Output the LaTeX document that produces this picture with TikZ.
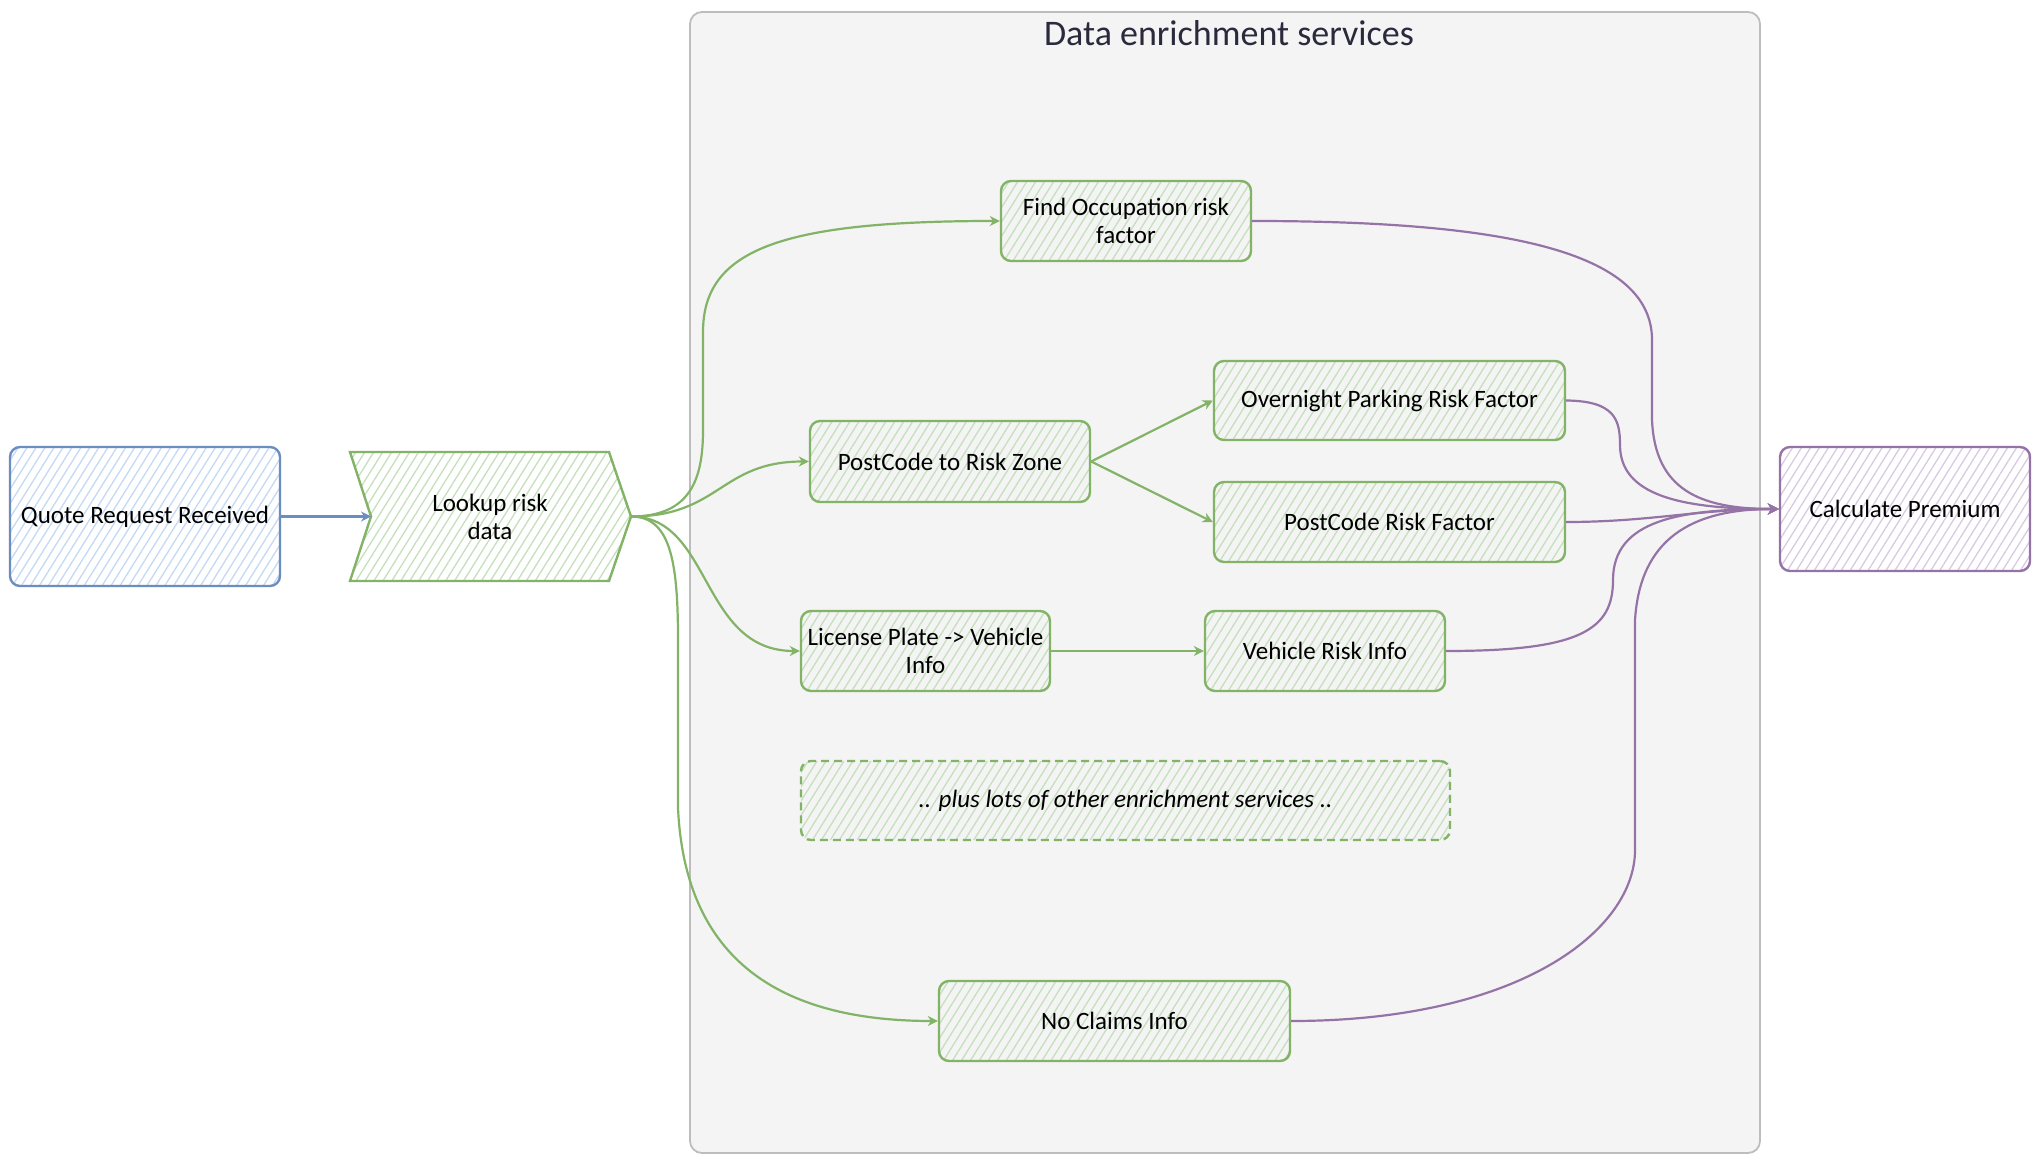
\documentclass[tikz,border=0pt]{standalone}
\usepackage{fontspec}
\setmainfont{Carlito}
\usetikzlibrary{patterns.meta,arrows.meta}
\definecolor{bstroke}{HTML}{6C8EBF}
\definecolor{bhatch}{HTML}{C4D9F5}
\definecolor{gstroke}{HTML}{82B366}
\definecolor{ghatch}{HTML}{C4E0BC}
\definecolor{pstroke}{HTML}{9673A6}
\definecolor{phatch}{HTML}{D9CAE4}
\definecolor{contfill}{HTML}{F4F4F4}
\definecolor{contline}{HTML}{BDBDBD}
\definecolor{titlecol}{HTML}{2A2A3C}
\tikzset{
  hatch/.style={pattern={Lines[angle=58,distance=3.8pt,line width=0.65pt]}},
  card/.style={draw, line width=1.2pt, rounded corners=5pt, align=center, inner sep=0pt,
    font=\fontsize{12.5}{14}\selectfont, text=black},
  gcard/.style={card, draw=gstroke, hatch, pattern color=ghatch},
  bcard/.style={card, draw=bstroke, hatch, pattern color=bhatch},
  pcard/.style={card, draw=pstroke, hatch, pattern color=phatch},
  gedge/.style={draw=gstroke, line width=1.1pt, -{Stealth[length=5pt,width=5pt]}},
  bedge/.style={draw=bstroke, line width=1.1pt, -{Stealth[length=5pt,width=5pt]}},
  pedge/.style={draw=pstroke, line width=1.1pt, -{Stealth[length=5.5pt,width=5.5pt]}}
}
\begin{document}
\begin{tikzpicture}[x=0.5pt,y=-0.5pt]
\useasboundingbox (0,0) rectangle (2043,1165);
\fill[white] (0,0) rectangle (2043,1165);

% container
\path[draw=contline, fill=contfill, line width=0.9pt, rounded corners=6pt] (690,12) rectangle (1760,1153);
\node[font=\fontsize{18}{20}\selectfont, text=titlecol] (title) at (1229,33) {Data enrichment services};

% left nodes
\node[bcard, minimum width=135pt, minimum height=69.5pt] (quote) at (145,516.5) {Quote Request Received};
\path[draw=gstroke, line width=1.2pt, hatch, pattern color=ghatch]
  (350,452) -- (609,452) -- (631,516.5) -- (609,581) -- (350,581) -- (371,516.5) -- cycle;
\coordinate (lookin) at (371,516.5);
\coordinate (lookout) at (631,516.5);
\node[align=center, font=\fontsize{12.5}{14}\selectfont] (lookup) at (490,516.5) {Lookup risk\\data};

% services
\node[gcard, minimum width=125pt, minimum height=40pt] (occ) at (1126,221) {Find Occupation risk\\factor};
\node[gcard, minimum width=140pt, minimum height=40.5pt] (pcrz) at (950,461.5) {PostCode to Risk Zone};
\node[gcard, minimum width=175.5pt, minimum height=39.5pt] (over) at (1389.5,400.5) {Overnight Parking Risk Factor};
\node[gcard, minimum width=175.5pt, minimum height=40pt] (pcrf) at (1389.5,522) {PostCode Risk Factor};
\node[gcard, minimum width=124.5pt, minimum height=40pt] (lic) at (925.5,651) {License Plate -> Vehicle\\Info};
\node[gcard, minimum width=120pt, minimum height=40pt] (veh) at (1325,651) {Vehicle Risk Info};
\node[gcard, dash pattern=on 4pt off 2.5pt, minimum width=324.5pt, minimum height=39.5pt] (plus) at (1125.5,800.5) {\itshape .. plus lots of other enrichment services ..};
\node[gcard, minimum width=175.5pt, minimum height=40pt] (noc) at (1114.5,1021) {No Claims Info};

% right node
\node[pcard, minimum width=125pt, minimum height=62pt] (calc) at (1905,509) {Calculate Premium};

% edges in
\draw[bedge] (quote.east) -- (lookin);
\draw[gedge] (lookout) .. controls (690,516.5) and (703,480) .. (703,430) -- (703,332) .. controls (703,250) and (780,221) .. (occ.west);
\draw[gedge] (lookout) .. controls (720,516.5) and (720,461.5) .. (pcrz.west);
\draw[gedge] (lookout) .. controls (712,516.5) and (700,651) .. (lic.west);
\draw[gedge] (lookout) .. controls (670,516.5) and (678,560) .. (678,640) -- (678,808) .. controls (685,960) and (780,1021) .. (noc.west);
\draw[gedge] (pcrz.east) -- (over.west);
\draw[gedge] (pcrz.east) -- (pcrf.west);
\draw[gedge] (lic.east) -- (veh.west);

% edges out
\draw[pedge] (occ.east) .. controls (1500,221) and (1652,250) .. (1652,340) -- (1652,420) .. controls (1655,490) and (1700,509) .. (calc.west);
\draw[pedge] (over.east) .. controls (1615,401) and (1620,420) .. (1620,445) .. controls (1620,495) and (1680,509) .. (calc.west);
\draw[pedge] (pcrf.east) .. controls (1650,522) and (1700,509) .. (calc.west);
\draw[pedge] (veh.east) .. controls (1580,651) and (1613,630) .. (1613,580) .. controls (1613,520) and (1680,509) .. (calc.west);
\draw[pedge] (noc.east) .. controls (1520,1021) and (1635,930) .. (1635,850) -- (1635,620) .. controls (1640,540) and (1690,509) .. (calc.west);
\end{tikzpicture}
\end{document}
